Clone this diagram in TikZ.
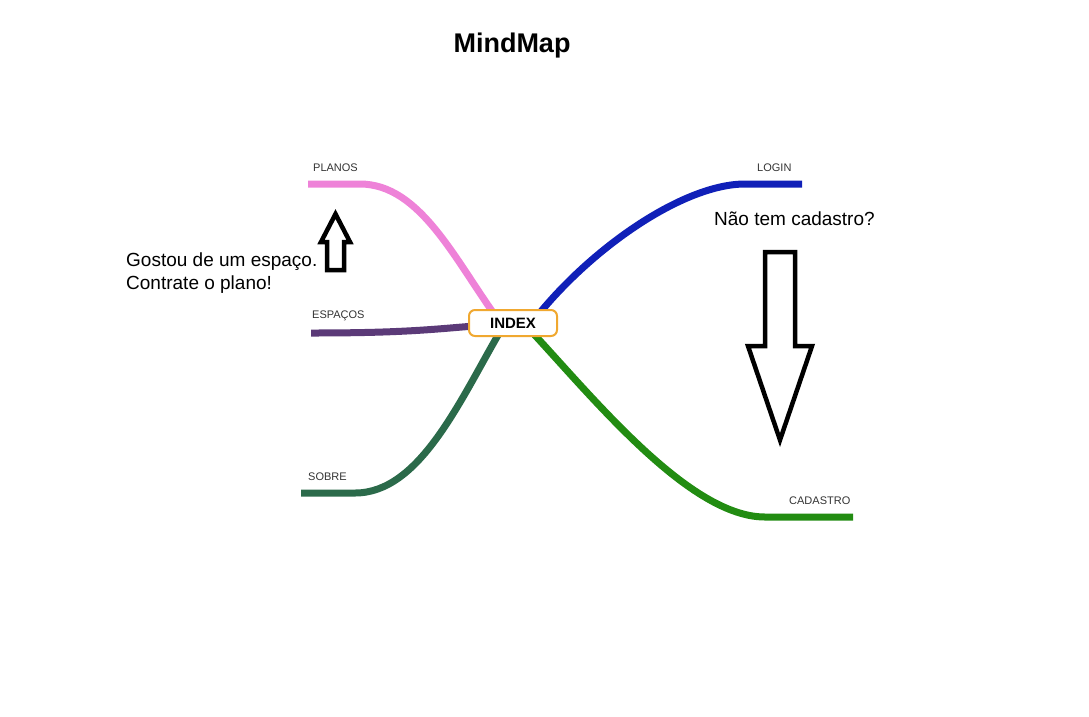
\documentclass[tikz,border=0pt]{standalone}
\usepackage{fontspec}
\setmainfont{Liberation Sans}
\usetikzlibrary{backgrounds}

\definecolor{rosa}{HTML}{EE82D8}
\definecolor{roxo}{HTML}{5B3A78}
\definecolor{verdeesc}{HTML}{2B6A4A}
\definecolor{azul}{HTML}{1020B8}
\definecolor{verde}{HTML}{228C12}
\definecolor{laranja}{HTML}{F0A830}
\definecolor{rotulo}{HTML}{333333}

\begin{document}
\begin{tikzpicture}
  [x=1pt, y=-1pt,
   central/.style={draw=laranja, line width=2pt, fill=white, rounded corners=6pt,
                   minimum width=88pt, minimum height=26pt, inner sep=0pt,
                   font=\fontsize{15}{18}\selectfont\bfseries},
   rotulo/.style={anchor=base west, inner sep=0pt, text=rotulo, font=\fontsize{11}{13}\selectfont},
   ramo/.style={line width=7pt, draw=#1},
   nota/.style={inner sep=0pt, align=left, font=\fontsize{19}{23}\selectfont},
   seta/.style={draw=black, line width=4.5pt, line join=miter}]

  \useasboundingbox (0,0) rectangle (1089,716);

  % Titulo
  \node[font=\fontsize{27}{30}\selectfont\bfseries] (titulo) at (512,46) {MindMap};

  % No central
  \node[central] (index) at (513,323) {INDEX};

  % Pontas dos ramos
  \coordinate (planos-a) at (308,184);
  \coordinate (espacos-a) at (311,333);
  \coordinate (sobre-a) at (301,493);
  \coordinate (login-a) at (802,184);
  \coordinate (cadastro-a) at (853,517);

  % Rotulos
  \node[rotulo] (planos) at (313,171) {PLANOS};
  \node[rotulo] (espacos) at (312,318) {ESPAÇOS};
  \node[rotulo] (sobre) at (308,480.5) {SOBRE};
  \node[rotulo] (login) at (757,171) {LOGIN};
  \node[rotulo] (cadastro) at (789,504) {CADASTRO};

  % Ramos
  \begin{scope}[on background layer]
    \draw[ramo=rosa] (planos-a) -- ++(52,0) .. controls (420,184) and (455,260) .. ([shift={(-16,-5)}]index.center);
    \draw[ramo=roxo] (espacos-a) .. controls (420,333) and (440,328) .. (index.center);
    \draw[ramo=verdeesc] (sobre-a) -- ++(54,0) .. controls (420,493) and (460,400) .. ([shift={(-12,7)}]index.center);
    \draw[ramo=azul] (login-a) -- ++(-57,0) .. controls (685,184) and (595,245) .. ([shift={(25,-8)}]index.center);
    \draw[ramo=verde] (cadastro-a) -- ++(-88,0) .. controls (690,517) and (595,400) .. ([shift={(18,8)}]index.center);
  \end{scope}

  % Notas
  \node[nota, anchor=north west] (gostou) at (126,253) {Gostou de um espaço.\\Contrate o plano!};
  \node[nota, anchor=base west] (pergunta) at (714,225) {Não tem cadastro?};

  % Setas
  \draw[seta] (335.5,214) -- (350,242) -- (344,242) -- (344,270) -- (327,270)
    -- (327,242) -- (321,242) -- cycle;
  \draw[seta] (765,252) -- (795,252) -- (795,346) -- (812,346) -- (780,440)
    -- (748,346) -- (765,346) -- cycle;
\end{tikzpicture}
\end{document}
